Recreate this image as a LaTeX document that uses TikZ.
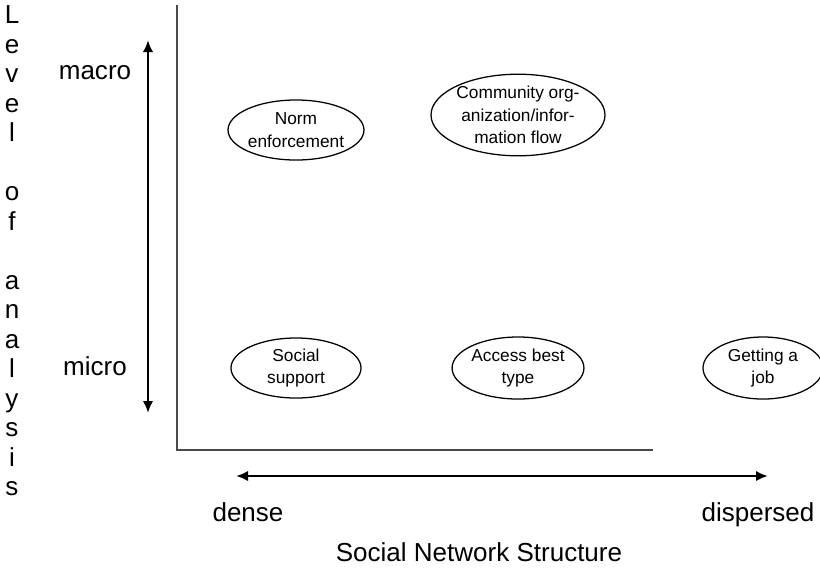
\documentclass[tikz,border=0pt]{standalone}
\usepackage{fontspec}
\setmainfont{Liberation Sans}
\usetikzlibrary{arrows.meta,shapes.geometric}

\definecolor{axisgray}{HTML}{4A4A4A}

\tikzset{
  axis/.style={draw=axisgray, line width=1.4pt},
  scale arrow/.style={<->, line width=2pt},
  lbl/.style={font=\fontsize{18.5}{22}\selectfont, inner sep=0pt,
    text height=0.72em, text depth=0.21em},
  item/.style={ellipse, draw, line width=0.9pt, inner sep=0pt, align=center,
    font=\fontsize{12.3}{16}\selectfont},
}

\begin{document}
\begin{tikzpicture}[x=0.025cm, y=-0.025cm, >={Latex[length=0.3cm,width=0.26cm]}]
  \useasboundingbox (0,0) rectangle (820,575);

  % axes
  \draw[axis] (177,5) -- (177,450) -- (653,450);

  % scale arrows
  \coordinate (macroend) at (148,40);
  \coordinate (microend) at (148,413);
  \draw[scale arrow] (macroend) -- (microend);
  \coordinate (denseend) at (236,476);
  \coordinate (dispend) at (768,476);
  \draw[scale arrow] (denseend) -- (dispend);

  % axis labels
  \node[lbl] (macro) at (95,76) {macro};
  \node[lbl] (micro) at (95,372) {micro};
  \node[lbl] (dense) at (248,518) {dense};
  \node[lbl] (dispersed) at (758,518) {dispersed};
  \node[lbl] (xtitle) at (479,558) {Social Network Structure};
  \foreach \ch [count=\i from 0] in {L,e,v,e,l,{},o,f,{},a,n,a,l,y,s,i,s}
    \node[lbl] (ytitle\i) at (12,{20+29.5*\i}) {\ch};

  % examples
  \node[item, minimum width=3.25cm, minimum height=1.5cm] (norm) at (296,130) {Norm\\enforcement};
  \node[item, minimum width=4.25cm, minimum height=1.875cm] (community) at (518,115) {Community org-\\anization/infor-\\mation flow};
  \node[item, minimum width=3.25cm, minimum height=1.5cm] (support) at (296,368) {Social\\support};
  \node[item, minimum width=3.125cm, minimum height=1.55cm] (access) at (518,368) {Access best\\type};
  \node[item, minimum width=3cm, minimum height=1.55cm] (job) at (763,368) {Getting a\\job};
\end{tikzpicture}
\end{document}
